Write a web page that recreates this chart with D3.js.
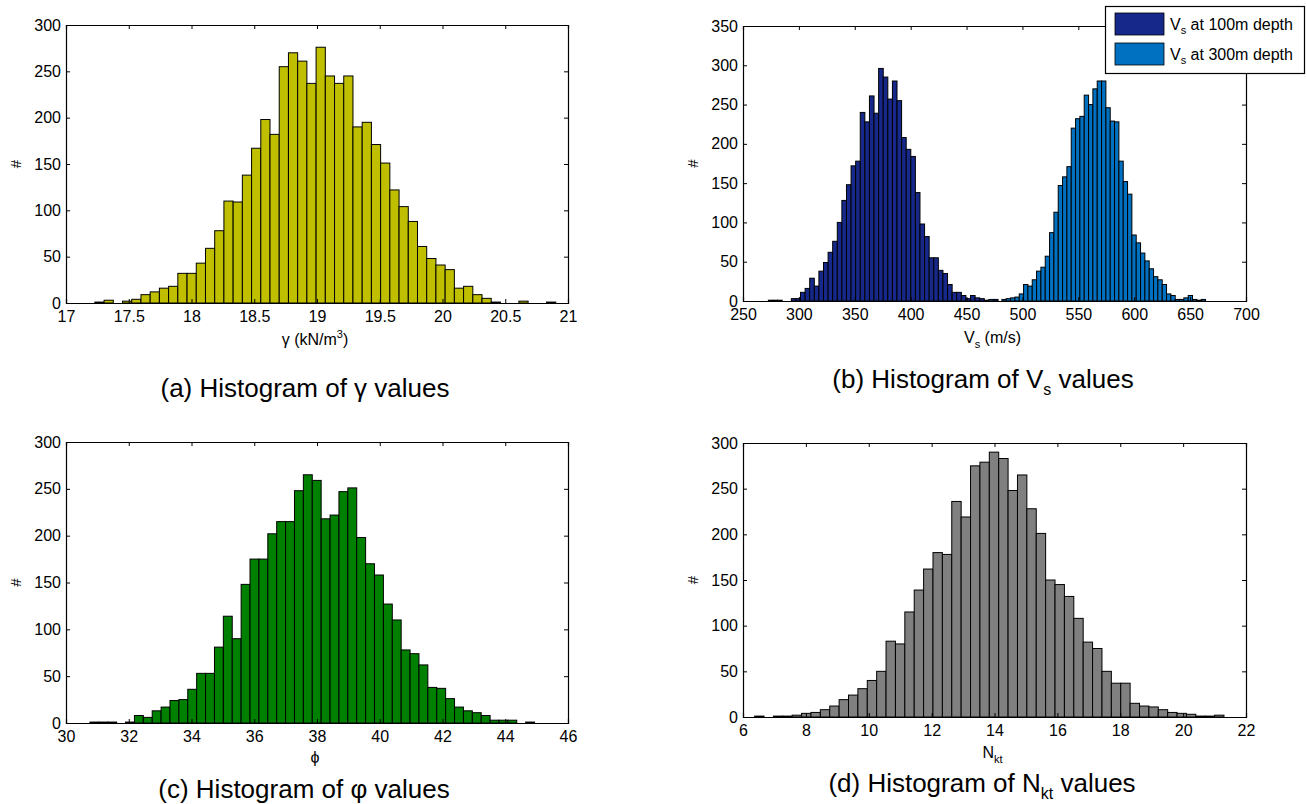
<!DOCTYPE html>
<html>
<head>
<meta charset="utf-8">
<script src="https://cdn.jsdelivr.net/npm/d3@7"></script>
<style>
  body { margin: 0; background: #fff; }
  svg text { font-family: "Liberation Sans", Arial, Helvetica, sans-serif; fill: #000; }
</style>
</head>
<body>
<svg id="chart" width="1307" height="804"></svg>
<script>
// counts, one entry per bin
const gammaCounts = [1, 3, 0, 2, 4, 9, 12, 16, 18, 32, 32, 43, 59, 78, 110, 109, 138, 167, 198, 182,
  255, 270, 261, 237, 276, 245, 237, 245, 190, 195, 171, 151, 122, 104, 88, 61, 48, 41, 36, 16,
  18, 9, 5, 1, 0, 0, 2, 0, 0, 1];
const gammaBin = { start: 17.23, width: 0.07345 };

const vs100Counts = [1, 1, 1, 0, 0, 3, 3, 11, 16, 29, 19, 38, 49, 62, 76, 100, 128, 148, 172, 178,
  240, 228, 261, 239, 296, 285, 257, 280, 255, 208, 193, 184, 138, 98, 82, 55, 55, 39, 35, 21,
  11, 11, 7, 3, 7, 4, 3, 1, 0, 2];
const vs100Bin = { start: 272.7, width: 4.11 };

const vs300Counts = [2, 0, 0, 2, 3, 4, 5, 9, 21, 19, 27, 38, 43, 57, 87, 113, 147, 158, 171, 220,
  232, 235, 262, 250, 270, 280, 280, 246, 229, 228, 178, 152, 136, 84, 74, 61, 51, 41, 31, 27,
  21, 9, 7, 2, 2, 4, 7, 2, 1, 2];
const vs300Bin = { start: 470.0, width: 3.876 };

const phiCounts = [1, 1, 1, 0, 1, 8, 6, 13, 17, 24, 25, 36, 53, 53, 81, 114, 90, 148, 175, 175,
  202, 215, 215, 248, 265, 259, 218, 222, 247, 251, 198, 170, 158, 127, 110, 78, 74, 62, 38, 37,
  26, 17, 13, 11, 8, 3, 3, 3, 0, 1];
const phiBin = { start: 30.764, width: 0.2834 };

const nktCounts = [1, 0, 1, 1, 2, 4, 5, 8, 12, 19, 24, 31, 40, 50, 83, 80, 115, 139, 162, 180,
  178, 236, 219, 275, 279, 290, 283, 248, 265, 228, 201, 150, 145, 132, 108, 82, 75, 50, 37, 37,
  15, 12, 11, 8, 5, 4, 3, 1, 1, 2];
const nktBin = { start: 6.37, width: 0.2986 };

const gammaTicks = [17, 17.5, 18, 18.5, 19, 19.5, 20, 20.5, 21];
const vsTicks = [250, 300, 350, 400, 450, 500, 550, 600, 650, 700];
const phiTicks = [30, 32, 34, 36, 38, 40, 42, 44, 46];
const nktTicks = [6, 8, 10, 12, 14, 16, 18, 20, 22];
const countTicks300 = [0, 50, 100, 150, 200, 250, 300];
const countTicks350 = [0, 50, 100, 150, 200, 250, 300, 350];

const legendLabels = ['at 100m depth', 'at 300m depth'];

const svg = d3.select('#chart');

function panel(opt) {
  const x = d3.scaleLinear().domain(d3.extent(opt.xTicks)).range([opt.left, opt.right]);
  const y = d3.scaleLinear().domain(d3.extent(opt.yTicks)).range([opt.bottom, opt.top]);
  const g = svg.append('g');

  opt.series.forEach(function (s) {
    const bins = s.counts.map(function (c, i) {
      return { x0: s.bin.start + i * s.bin.width, x1: s.bin.start + (i + 1) * s.bin.width, n: c };
    });
    g.selectAll(null)
      .data(bins)
      .enter().append('rect')
      .attr('x', d => x(d.x0))
      .attr('y', d => y(d.n))
      .attr('width', d => x(d.x1) - x(d.x0))
      .attr('height', d => y(0) - y(d.n))
      .attr('fill', s.color)
      .attr('stroke', '#000')
      .attr('stroke-width', 1);
  });

  // axes: bottom/left carry the labels, top/right only mirror ticks; ticks point inward
  const bottom = d3.axisBottom(x).tickValues(opt.xTicks).tickSize(-4).tickPadding(8)
    .tickFormat(d3.format(''));
  const top = d3.axisTop(x).tickValues(opt.xTicks).tickSize(-4).tickFormat('');
  const left = d3.axisLeft(y).tickValues(opt.yTicks).tickSize(-4).tickPadding(5);
  const right = d3.axisRight(y).tickValues(opt.yTicks).tickSize(-4).tickFormat('');

  [[bottom, 'translate(0,' + opt.bottom + ')'], [top, 'translate(0,' + opt.top + ')'],
   [left, 'translate(' + opt.left + ',0)'], [right, 'translate(' + opt.right + ',0)']]
    .forEach(function (a) {
      const ax = g.append('g').attr('transform', a[1]).call(a[0]);
      ax.select('.domain').attr('stroke', '#000').attr('stroke-width', 1.2);
      ax.selectAll('.tick line').attr('stroke', '#000');
      ax.selectAll('.tick text').attr('font-size', 16).attr('fill', '#000')
        .attr('font-family', '"Liberation Sans", Arial, sans-serif');
    });

  g.append('text')
    .attr('transform', 'translate(' + (opt.left - 45) + ',' + ((opt.top + opt.bottom) / 2) + ') rotate(-90)')
    .attr('text-anchor', 'middle')
    .attr('font-size', 15)
    .text('#');

  const xl = g.append('text')
    .attr('x', (opt.left + opt.right) / 2 - 2)
    .attr('y', opt.bottom + 42)
    .attr('text-anchor', 'middle')
    .attr('font-size', 16);
  opt.xLabel(xl);

  const cap = g.append('text')
    .attr('x', opt.capX)
    .attr('y', opt.capY)
    .attr('text-anchor', 'middle')
    .attr('font-size', 26);
  opt.caption(cap);
  return { x: x, y: y };
}

function sub(t, base, s, rest, size) {
  t.append('tspan').text(base);
  t.append('tspan').attr('font-size', size).attr('dy', size * 0.42).text(s);
  t.append('tspan').attr('dy', -size * 0.42).text(rest);
}

panel({
  left: 66, right: 568, top: 25, bottom: 303,
  xTicks: gammaTicks, yTicks: countTicks300,
  series: [{ counts: gammaCounts, bin: gammaBin, color: '#bfbf00' }],
  xLabel: function (t) {
    t.append('tspan').text('\u03b3 (kN/m');
    t.append('tspan').attr('font-size', 11).attr('dy', -7).text('3');
    t.append('tspan').attr('dy', 7).text(')');
  },
  capX: 305, capY: 397,
  caption: function (t) { t.text('(a) Histogram of \u03b3 values'); }
});

panel({
  left: 743, right: 1246, top: 26, bottom: 301,
  xTicks: vsTicks, yTicks: countTicks350,
  series: [
    { counts: vs100Counts, bin: vs100Bin, color: '#16298b' },
    { counts: vs300Counts, bin: vs300Bin, color: '#0070c0' }
  ],
  xLabel: function (t) { sub(t, 'V', 's', ' (m/s)', 11); },
  capX: 983, capY: 388,
  caption: function (t) { sub(t, '(b) Histogram of V', 's', ' values', 16); }
});

panel({
  left: 66, right: 568, top: 442, bottom: 723,
  xTicks: phiTicks, yTicks: countTicks300,
  series: [{ counts: phiCounts, bin: phiBin, color: '#008000' }],
  xLabel: function (t) { t.attr('y', 723 + 40).text('\u03d5'); },
  capX: 304, capY: 798,
  caption: function (t) { t.text('(c) Histogram of \u03c6 values'); }
});

panel({
  left: 743, right: 1246, top: 443, bottom: 717,
  xTicks: nktTicks, yTicks: countTicks300,
  series: [{ counts: nktCounts, bin: nktBin, color: '#808080' }],
  xLabel: function (t) { t.attr('y', 717 + 41); sub(t, 'N', 'kt', '', 11); },
  capX: 982, capY: 792,
  caption: function (t) { sub(t, '(d) Histogram of N', 'kt', ' values', 16); }
});

// legend for panel (b)
const leg = svg.append('g');
leg.append('rect').attr('x', 1105.5).attr('y', 6.5).attr('width', 199).attr('height', 67)
  .attr('fill', '#fff').attr('stroke', '#000').attr('stroke-width', 1.2);
const legColors = ['#16298b', '#0070c0'];
legendLabels.forEach(function (lab, i) {
  leg.append('rect').attr('x', 1115).attr('y', 13 + i * 30).attr('width', 49).attr('height', 22)
    .attr('fill', legColors[i]).attr('stroke', '#000').attr('stroke-width', 0.8);
  const t = leg.append('text').attr('x', 1170).attr('y', 29.5 + i * 30).attr('font-size', 16);
  sub(t, 'V', 's', ' ' + lab, 11);
});
</script>
</body>
</html>
